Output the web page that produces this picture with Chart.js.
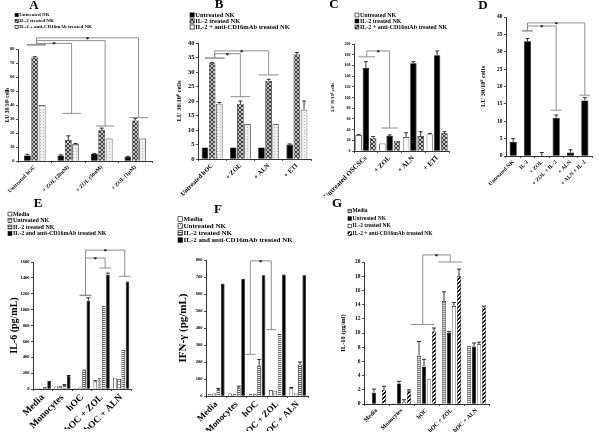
<!DOCTYPE html>
<html>
<head>
<meta charset="utf-8">
<script src="https://cdn.jsdelivr.net/npm/chart.js@4.4.1/dist/chart.umd.min.js"></script>
<style>
  body { margin: 0; background: #fff; }
  #wrap { position: relative; width: 600px; height: 433px; overflow: hidden; }
  #wrap canvas { position: absolute; left: 0; top: 0; }
</style>
</head>
<body>
<div id="wrap"></div>
<script>
// ---- panel A : lysis vs ZOL doses ----
const catsA = ['Untreated hOC', '+ ZOL (20nM)', '+ ZOL (50nM)', '+ ZOL (1μM)'];
const untreatedNkA = [4, 4, 5, 3];
const il2NkA = [74, 15, 22, 29];
const cd16NkA = [40, 12, 16, 16];
const errUntreatedA = [0.8, 0.4, 0.4, 0.3];
const errIl2A = [0.5, 3, 1.5, 1.5];
const errCd16A = [0, 0.5, 0, 0];
const ticksA = [0, 10, 20, 30, 40, 50, 60, 70, 80];

// ---- panel B ----
const catsB = ['Untreated hOC', '+ ZOL', '+ ALN', '+ ETI'];
const untreatedNkB = [4, 4, 4, 5];
const il2NkB = [33, 19, 27, 36];
const cd16NkB = [19, 12, 12, 17];
const errUntreatedB = [0, 0, 0, 0.2];
const errIl2B = [0.3, 1, 0.5, 0.7];
const errCd16B = [0.5, 0, 0, 3];
const ticksB = [0, 5, 10, 15, 20, 25, 30, 35, 40];

// ---- panel C ----
const catsC = ['Untreated OSCSCs', '+ ZOL', '+ ALN', '+ ETI'];
const untreatedNkC = [30, 14, 26, 31];
const il2NkC = [155, 28, 164, 179];
const cd16NkC = [25, 19, 28, 33];
const errUntreatedC = [1, 0, 8, 2];
const errIl2C = [12, 2, 3, 8];
const errCd16C = [2, 0, 8, 3];
const ticksC = [0, 20, 40, 60, 80, 100, 120, 140, 160, 180, 200];

// ---- panel D ----
const catsD = ['Untreated NK', 'IL-2', '+ ZOL', '+ ZOL + IL-2', '+ ALN', '+ ALN + IL-2'];
const lysisD = [4, 33, 0, 11, 1, 16];
const errLysisD = [1, 0.8, 1, 0.8, 0.8, 0.8];
const ticksD = [0, 5, 10, 15, 20, 25, 30, 35, 40];

// ---- panel E : IL-6 ----
const catsE = ['Media', 'Monocytes', 'hOC', 'hOC + ZOL', 'hOC + ALN'];
const mediaE = [10, 30, 10, 95, 140];
const untreatedE = [10, 35, 20, 140, 125];
const il2E = [25, 50, 245, 1050, 495];
const cd16E = [105, 165, 1110, 1440, 1355];
const errMediaE = [0, 0, 0, 10, 0];
const errUntreatedE = [0, 0, 0, 0, 0];
const errIl2E = [0, 5, 0, 0, 0];
const errCd16E = [0, 5, 40, 20, 0];
const ticksE = [0, 200, 400, 600, 800, 1000, 1200, 1400, 1600];

// ---- panel F : IFN-gamma ----
const catsF = ['Media', 'Monocytes', 'hOC', 'hOC + ZOL', 'hOC + ALN'];
const mediaF = [10, 15, 10, 35, 45];
const untreatedF = [15, 10, 10, 30, 15];
const il2F = [40, 50, 180, 365, 185];
const cd16F = [660, 690, 710, 715, 710];
const errMediaF = [0, 0, 0, 0, 5];
const errUntreatedF = [0, 0, 0, 0, 0];
const errIl2F = [5, 8, 35, 0, 15];
const errCd16F = [0, 0, 0, 0, 0];
const ticksF = [0, 100, 200, 300, 400, 500, 600, 700, 800];

// ---- panel G : IL-18 ----
const catsG = ['Media', 'Monocytes', 'hOC', 'hOC + ZOL', 'hOC + ALN'];
const mediaG = [0, 0.1, 6.8, 14.5, 8.2];
const untreatedG = [1.6, 2.9, 5.2, 10, 8.1];
const il2G = [0, 0.3, 3.5, 13.8, 8.4];
const cd16G = [2, 1.8, 10.2, 18, 13.6];
const errMediaG = [0, 0, 2, 1.3, 0];
const errUntreatedG = [0.5, 0.3, 1.1, 0.2, 0.5];
const errIl2G = [0, 0.3, 0, 0.5, 0.3];
const errCd16G = [0.5, 0.2, 0.5, 1, 0.2];
const ticksG = [0, 2, 4, 6, 8, 10, 12, 14, 16, 18, 20];

const SERIF = '"Liberation Serif", "Times New Roman", serif';

// fill patterns for the bars
function pattern(kind) {
  if (kind === 'black') return '#000';
  if (kind === 'white') return '#fff';
  const t = document.createElement('canvas');
  const n = { cross: 4, dots: 3, hstripe: 2, hstripeG: 2, grid: 3, diag: 4, diagLight: 4 }[kind];
  t.width = t.height = n;
  const g = t.getContext('2d');
  const px = (x, y, c) => { g.fillStyle = c; g.fillRect(x, y, 1, 1); };
  if (kind === 'cross') {
    g.fillStyle = '#c8c8c8'; g.fillRect(0, 0, 4, 4);
    for (let i = 0; i < 4; i++) { px(i, i, '#3a3a3a'); px(3 - i, i, '#3a3a3a'); }
  } else if (kind === 'dots') {
    g.fillStyle = '#eeeeee'; g.fillRect(0, 0, 3, 3);
    px(1, 1, '#b4b4b4');
  } else if (kind === 'hstripe') {
    g.fillStyle = '#fff'; g.fillRect(0, 0, 2, 2);
    g.fillStyle = '#5a5a5a'; g.fillRect(0, 0, 2, 1);
  } else if (kind === 'hstripeG') {
    g.fillStyle = '#dadada'; g.fillRect(0, 0, 2, 2);
    g.fillStyle = '#8a8a8a'; g.fillRect(0, 0, 2, 1);
  } else if (kind === 'grid') {
    g.fillStyle = '#fff'; g.fillRect(0, 0, 3, 3);
    g.fillStyle = '#999'; g.fillRect(0, 0, 3, 1); g.fillRect(0, 0, 1, 3);
  } else if (kind === 'diag' || kind === 'diagLight') {
    g.fillStyle = '#fff'; g.fillRect(0, 0, 4, 4);
    const c = kind === 'diag' ? '#000' : '#aaa';
    for (let x = 0; x < 4; x++) for (let y = 0; y < 4; y++) {
      const k = (x + y) % 4;
      if (k === 0 || (kind === 'diag' && k === 1)) px(x, y, c);
    }
  }
  return g.createPattern(t, 'repeat');
}

const errorBars = {
  id: 'errorBars',
  afterDatasetsDraw(chart) {
    const ctx = chart.ctx, y = chart.scales.y;
    ctx.save();
    ctx.strokeStyle = '#000';
    ctx.lineWidth = 0.8;
    chart.data.datasets.forEach((ds, i) => {
      if (!ds.errors) return;
      chart.getDatasetMeta(i).data.forEach((bar, j) => {
        const e = ds.errors[j];
        if (!e) return;
        const base = y.getPixelForValue(ds.data[j]);
        const top = y.getPixelForValue(ds.data[j] + e);
        ctx.beginPath();
        ctx.moveTo(bar.x, base); ctx.lineTo(bar.x, top);
        ctx.moveTo(bar.x - 2, top); ctx.lineTo(bar.x + 2, top);
        ctx.stroke();
      });
    });
    ctx.restore();
  }
};

// significance brackets, given in category index / data units
const brackets = {
  id: 'brackets',
  afterDraw(chart, args, o) {
    if (!o.items || !o.items.length) return;
    const ctx = chart.ctx, x = chart.scales.x, y = chart.scales.y;
    const cw = (x.right - x.left) / chart.data.labels.length;
    const hw = o.capW * cw / 2;
    ctx.save();
    ctx.strokeStyle = '#8f8f8f';
    ctx.lineWidth = 1;
    ctx.fillStyle = '#000';
    ctx.font = 'bold 7px ' + SERIF;
    ctx.textAlign = 'center';
    o.items.forEach(b => {
      const xa = x.getPixelForValue(b.a) + (b.offA || 0) * cw;
      const xb = x.getPixelForValue(b.b) + (b.offB || 0) * cw;
      const yt = y.getPixelForValue(b.top);
      const ya = y.getPixelForValue(b.capA);
      const yb = y.getPixelForValue(b.capB);
      ctx.beginPath();
      ctx.moveTo(xa - hw, ya); ctx.lineTo(xa + hw, ya);
      ctx.moveTo(xa, ya); ctx.lineTo(xa, yt); ctx.lineTo(xb, yt); ctx.lineTo(xb, yb);
      ctx.moveTo(xb - hw, yb); ctx.lineTo(xb + hw, yb);
      ctx.stroke();
      if (b.star) ctx.fillText('*', (xa + xb) / 2, yt + 3);
    });
    ctx.restore();
  }
};

// panel letter and stacked legend
const panelText = {
  id: 'panelText',
  afterDraw(chart, args, o) {
    const ctx = chart.ctx;
    ctx.save();
    ctx.fillStyle = '#000';
    ctx.textBaseline = 'middle';
    ctx.textAlign = 'center';
    ctx.font = 'bold 13px ' + SERIF;
    ctx.fillText(o.letter, o.lx, o.ly);
    if (o.show) {
      ctx.textAlign = 'left';
      ctx.font = 'bold ' + o.size + 'px ' + SERIF;
      const s = o.size * 0.65;
      chart.data.datasets.forEach((ds, i) => {
        const yy = o.y + i * o.lh;
        ctx.fillStyle = ds.backgroundColor;
        ctx.fillRect(o.x, yy - s / 2, s, s);
        ctx.strokeStyle = '#000';
        ctx.lineWidth = 0.6;
        ctx.strokeRect(o.x, yy - s / 2, s, s);
        ctx.fillStyle = '#000';
        ctx.fillText(ds.label, o.x + s + 1, yy);
      });
    }
    ctx.restore();
  }
};

const wrap = document.getElementById('wrap');

function makePanel(p) {
  const cv = document.createElement('canvas');
  cv.width = 600; cv.height = 433;
  wrap.appendChild(cv);
  const [pl, pt, pr, pb] = p.box;
  new Chart(cv, {
    type: 'bar',
    data: {
      labels: p.labels,
      datasets: p.series.map(s => ({
        label: s.label,
        data: s.data,
        errors: s.err,
        backgroundColor: pattern(s.fill),
        borderColor: '#000',
        borderWidth: 0.7
      }))
    },
    options: {
      responsive: false,
      animation: false,
      devicePixelRatio: 1,
      categoryPercentage: p.cat,
      barPercentage: p.bar,
      layout: { padding: { left: pl - p.yw, top: pt, right: 600 - pr, bottom: 433 - pb - p.xh } },
      plugins: {
        legend: { display: false },
        tooltip: { enabled: false },
        brackets: { items: p.brackets || [], capW: p.capW || 0.6 },
        panelText: p.text
      },
      scales: {
        x: {
          afterFit: s => { s.height = p.xh; s.paddingLeft = 0; s.paddingRight = 0; },
          ticks: {
            color: '#000', autoSkip: false, minRotation: 45, maxRotation: 45, padding: 1,
            font: { family: SERIF, size: p.xFont, weight: 'bold' }
          },
          grid: { drawOnChartArea: false, tickLength: 2, color: '#000', lineWidth: 0.7, offset: true },
          border: { color: '#000', width: 0.8 }
        },
        y: {
          min: 0,
          max: p.ticks[p.ticks.length - 1],
          afterBuildTicks: s => { s.ticks = p.ticks.map(v => ({ value: v })); },
          afterFit: s => { s.width = p.yw; s.paddingTop = 0; s.paddingBottom = 0; },
          ticks: {
            color: '#000', padding: 1.5,
            font: { family: SERIF, size: p.yFont, weight: 'bold' },
            callback: v => String(v)
          },
          grid: { drawOnChartArea: false, tickLength: 2, color: '#000', lineWidth: 0.7 },
          border: { color: '#000', width: 0.8 },
          title: {
            display: true, text: p.ytitle, color: '#000', padding: 0,
            font: { family: SERIF, size: p.titleFont, weight: 'bold' }
          }
        }
      }
    },
    plugins: [errorBars, brackets, panelText]
  });
}

const lysisTitle = 'LU 30/10⁶ cells';

makePanel({
  labels: catsA, ticks: ticksA, ytitle: lysisTitle,
  box: [18, 49, 152, 161], yw: 14, xh: 45, cat: 0.66, bar: 0.92,
  xFont: 5.5, yFont: 4.5, titleFont: 5.5,
  series: [
    { label: 'Untreated NK', data: untreatedNkA, err: errUntreatedA, fill: 'black' },
    { label: 'IL-2 treated NK', data: il2NkA, err: errIl2A, fill: 'cross' },
    { label: 'IL-2 + anti-CD16mAb treated NK', data: cd16NkA, err: errCd16A, fill: 'dots' }
  ],
  brackets: [
    { a: 0, b: 1, top: 84, capA: 83, capB: 34, offA: 0.05, offB: 0.1, star: true },
    { a: 0, b: 2, top: 86, capA: 83, capB: 25, offA: 0.05, offB: 0.1 },
    { a: 0, b: 3, top: 88, capA: 83, capB: 31, offA: 0.05, offB: 0.1, star: true }
  ],
  capW: 0.55,
  text: { letter: 'A', lx: 34, ly: 6, show: true, x: 15, y: 15, lh: 6, size: 5 }
});

makePanel({
  labels: catsB, ticks: ticksB, ytitle: lysisTitle,
  box: [198, 43, 311, 159], yw: 23, xh: 45, cat: 0.76, bar: 0.92,
  xFont: 6.5, yFont: 6.5, titleFont: 6.5,
  series: [
    { label: 'Untreated NK', data: untreatedNkB, err: errUntreatedB, fill: 'black' },
    { label: 'IL-2 treated NK', data: il2NkB, err: errIl2B, fill: 'cross' },
    { label: 'IL-2 + anti-CD16mAb treated NK', data: cd16NkB, err: errCd16B, fill: 'dots' }
  ],
  brackets: [
    { a: 0, b: 1, top: 36.3, capA: 34.8, capB: 21.5, offA: 0.09, offB: 0, star: true },
    { a: 0, b: 2, top: 37.3, capA: 34.8, capB: 29, offA: 0.09, offB: 0, star: true }
  ],
  capW: 0.7,
  text: { letter: 'B', lx: 219, ly: 5, show: true, x: 190, y: 15, lh: 6, size: 6.5 }
});

makePanel({
  labels: catsC, ticks: ticksC, ytitle: lysisTitle,
  box: [354, 44, 449, 151], yw: 24, xh: 45, cat: 0.92, bar: 0.88,
  xFont: 7, yFont: 4, titleFont: 4.5,
  series: [
    { label: 'Untreated NK', data: untreatedNkC, err: errUntreatedC, fill: 'white' },
    { label: 'IL-2 treated NK', data: il2NkC, err: errIl2C, fill: 'black' },
    { label: 'IL-2 + anti-CD16mAb treated NK', data: cd16NkC, err: errCd16C, fill: 'cross' }
  ],
  brackets: [
    { a: 0, b: 1, top: 187, capA: 176, capB: 43, offA: 0.04, offB: 0, star: true }
  ],
  capW: 0.7,
  text: { letter: 'C', lx: 334, ly: 5, show: true, x: 355, y: 15, lh: 6, size: 6 }
});

makePanel({
  labels: catsD, ticks: ticksD, ytitle: lysisTitle,
  box: [506, 17, 592, 156], yw: 27, xh: 45, cat: 0.5, bar: 1,
  xFont: 5.5, yFont: 5.5, titleFont: 6.5,
  series: [
    { label: 'Lysis', data: lysisD, err: errLysisD, fill: 'black' }
  ],
  brackets: [
    { a: 1, b: 3, top: 37.4, capA: 36, capB: 13.2, star: true },
    { a: 1, b: 5, top: 38.3, capA: 36, capB: 17.5, star: true }
  ],
  capW: 0.75,
  text: { letter: 'D', lx: 483, ly: 6, show: false }
});

makePanel({
  labels: catsE, ticks: ticksE, ytitle: 'IL-6 (pg/mL)',
  box: [33, 262, 131, 389], yw: 25, xh: 40, cat: 0.86, bar: 0.85,
  xFont: 9.5, yFont: 4.5, titleFont: 10,
  series: [
    { label: 'Media', data: mediaE, err: errMediaE, fill: 'white' },
    { label: 'Untreated NK', data: untreatedE, err: errUntreatedE, fill: 'grid' },
    { label: 'IL-2 treated NK', data: il2E, err: errIl2E, fill: 'hstripe' },
    { label: 'IL-2 and anti-CD16mAb treated NK', data: cd16E, err: errCd16E, fill: 'black' }
  ],
  brackets: [
    { a: 2, b: 3, top: 1650, capA: 1180, capB: 1525, offA: 0.18, offB: 0.18, star: true },
    { a: 2, b: 4, top: 1750, capA: 1180, capB: 1420, offA: 0.18, offB: 0.18, star: true }
  ],
  capW: 0.6,
  text: { letter: 'E', lx: 38, ly: 204, show: true, x: 8, y: 214, lh: 6.5, size: 6 }
});

makePanel({
  labels: catsF, ticks: ticksF, ytitle: 'IFN-γ (pg/mL)',
  box: [206, 260, 308, 396], yw: 29, xh: 35, cat: 0.85, bar: 0.85,
  xFont: 9, yFont: 4.5, titleFont: 11,
  series: [
    { label: 'Media', data: mediaF, err: errMediaF, fill: 'white' },
    { label: 'Untreated NK', data: untreatedF, err: errUntreatedF, fill: 'diagLight' },
    { label: 'IL-2 treated NK', data: il2F, err: errIl2F, fill: 'hstripe' },
    { label: 'IL-2 and anti-CD16mAb treated NK', data: cd16F, err: errCd16F, fill: 'black' }
  ],
  brackets: [
    { a: 2, b: 3, top: 795, capA: 245, capB: 390, offA: -0.33, offB: -0.3, star: true }
  ],
  capW: 0.5,
  text: { letter: 'F', lx: 218, ly: 210, show: true, x: 178, y: 219, lh: 7, size: 7 }
});

makePanel({
  labels: catsG, ticks: ticksG, ytitle: 'IL-18 (pg/ml)',
  box: [364, 262, 489, 404], yw: 25, xh: 28, cat: 0.8, bar: 0.85,
  xFont: 6, yFont: 5.5, titleFont: 6.5,
  series: [
    { label: 'Media', data: mediaG, err: errMediaG, fill: 'hstripeG' },
    { label: 'Untreated NK', data: untreatedG, err: errUntreatedG, fill: 'black' },
    { label: 'IL-2 treated NK', data: il2G, err: errIl2G, fill: 'white' },
    { label: 'IL-2 + anti-CD16mAb treated NK', data: cd16G, err: errCd16G, fill: 'diag' }
  ],
  brackets: [
    { a: 2, b: 3, top: 21, capA: 11.2, capB: 20, offA: -0.15, offB: -0.05, star: true }
  ],
  capW: 0.95,
  text: { letter: 'G', lx: 337, ly: 204, show: true, x: 348, y: 211, lh: 7.5, size: 5.5 }
});
</script>
</body>
</html>
